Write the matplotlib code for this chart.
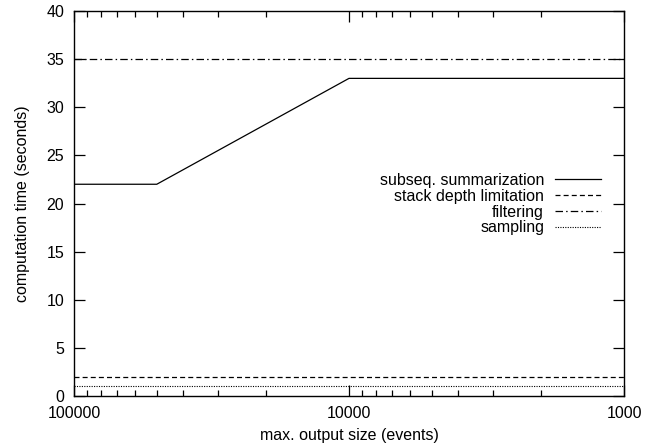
import matplotlib
matplotlib.use("Agg")
import matplotlib.pyplot as plt
from matplotlib.ticker import FixedLocator, FixedFormatter, NullFormatter, LogLocator

plt.rcParams['font.family'] = ['Liberation Sans', 'DejaVu Sans']
plt.rcParams['font.size'] = 11.5

# max. output size (events) and computation time (seconds)
summ_x = [100000, 50000, 10000, 1000]
summ_y = [22, 22, 33, 33]
stack_x = [100000, 1000]
stack_y = [2, 2]
filter_x = [100000, 1000]
filter_y = [35, 35]
sampling_x = [100000, 1000]
sampling_y = [1, 1]

x_ticks = [100000, 10000, 1000]
x_labels = ['100000', '10000', '1000']
y_ticks = list(range(0, 41, 5))

fig = plt.figure(figsize=(6.48, 4.47), dpi=100)
ax = fig.add_axes([74 / 648, 1 - 396 / 447, 550 / 648, 385 / 447])

lw = 0.9
ax.plot(summ_x, summ_y, color='black', lw=lw, ls='-', label='subseq. summarization')
ax.plot(stack_x, stack_y, color='black', lw=lw, ls=(0, (4, 2.5)), label='stack depth limitation')
ax.plot(filter_x, filter_y, color='black', lw=lw, ls=(0, (6, 2.5, 1.2, 2.5)), label='filtering')
ax.plot(sampling_x, sampling_y, color='black', lw=0.8, ls=(0, (1, 1.2)), label='sampling')

ax.set_xscale('log')
ax.set_xlim(100000, 1000)
ax.set_ylim(0, 40)
ax.xaxis.set_major_locator(FixedLocator(x_ticks))
ax.xaxis.set_major_formatter(FixedFormatter(x_labels))
ax.xaxis.set_minor_locator(LogLocator(base=10, subs=range(2, 10)))
ax.xaxis.set_minor_formatter(NullFormatter())
ax.set_yticks(y_ticks)

ax.tick_params(which='both', direction='in', top=True, right=True, width=0.9)
ax.tick_params(which='major', length=8, labelsize=11.5)
ax.tick_params(axis='x', which='major', pad=7.5)
ax.tick_params(axis='y', which='major', pad=7)
ax.tick_params(which='minor', length=4)
for s in ax.spines.values():
    s.set_linewidth(1.0)

ax.set_xlabel('max. output size (events)', fontsize=11.5, labelpad=5)
ax.set_ylabel('computation time (seconds)', fontsize=11.5, labelpad=12)

leg = ax.legend(loc='center right', bbox_to_anchor=(0.984, 0.498), frameon=False,
                markerfirst=False, handlelength=2.85, handletextpad=0.7,
                labelspacing=0.05, fontsize=11.5)
leg._legend_box.align = 'right'

fig.savefig('out.png', dpi=100)
